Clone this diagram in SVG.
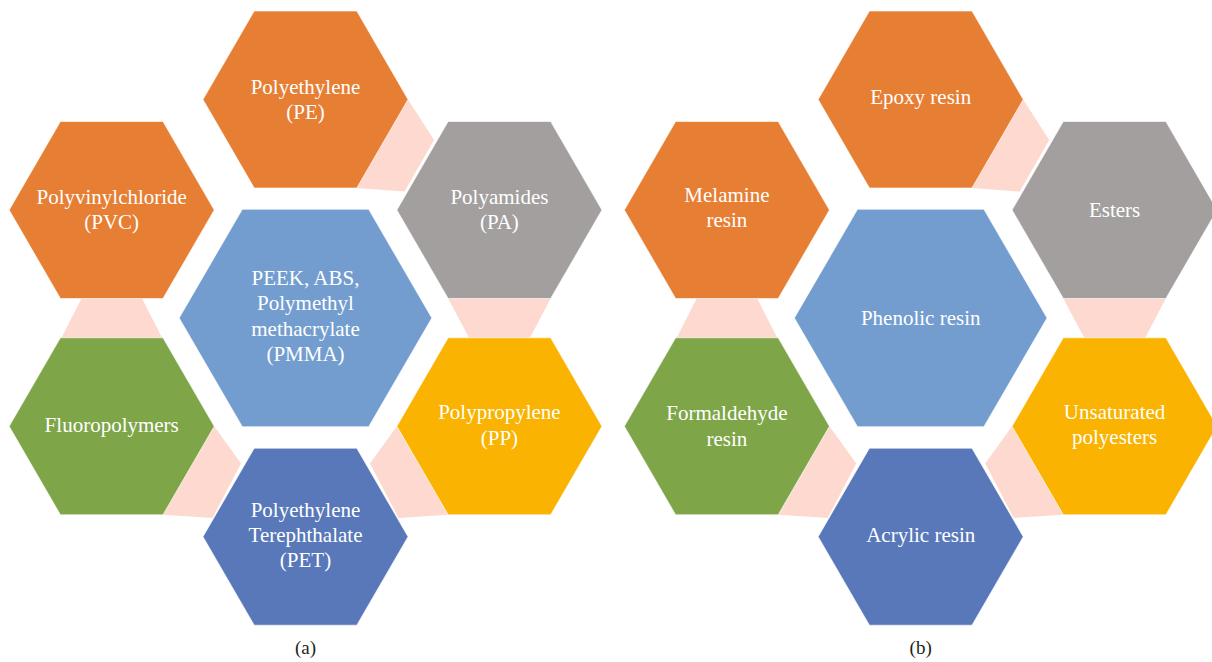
<svg xmlns="http://www.w3.org/2000/svg" xmlns:xlink="http://www.w3.org/1999/xlink" width="1212" height="662" viewBox="0 0 1212 662">
<style>
.t{font-family:"Liberation Serif","DejaVu Serif",serif;font-size:21px;fill:#ffffff;text-anchor:middle}
.cap{font-family:"Liberation Serif","DejaVu Serif",serif;font-size:19px;fill:#231f20;text-anchor:middle}
.con{fill:#fdd9cf}
.hx{stroke:#ffffff;stroke-width:1;stroke-opacity:0.6}
.orange{fill:#e67e34}.grey{fill:#a39f9e}.yellow{fill:#f9b300}.lblue{fill:#739dcf}.green{fill:#7ea548}.dblue{fill:#5878ba}
</style>
<defs>
<polygon id="hs" points="-102.5,0 -51.25,-88.5 51.25,-88.5 102.5,0 51.25,88.5 -51.25,88.5"/>
<polygon id="hl" points="-126.3,0 -63.15,-108.7 63.15,-108.7 126.3,0 63.15,108.7 -63.15,108.7"/>
</defs>
<rect width="1212" height="662" fill="#ffffff"/>

<g id="connectors">
  <g id="connectors-a">
    <polygon class="con" points="408,99.5 434,140 404.5,191.5 356.75,188"/>
    <polygon class="con" points="448.15,298.5 550.65,298.5 530,337.8 469,337.8"/>
    <polygon class="con" points="396.9,426.3 370,463.5 398.5,518 448.15,514.8"/>
    <polygon class="con" points="214.2,426.3 241,463.5 212.5,518 162.85,514.8"/>
    <polygon class="con" points="81.5,298.5 142,298.5 162,337.8 61.5,337.8"/>
  </g>
  <g id="connectors-b" transform="translate(615.2,0)">
    <polygon class="con" points="408,99.5 434,140 404.5,191.5 356.75,188"/>
    <polygon class="con" points="448.15,298.5 550.65,298.5 530,337.8 469,337.8"/>
    <polygon class="con" points="396.9,426.3 370,463.5 398.5,518 448.15,514.8"/>
    <polygon class="con" points="214.2,426.3 241,463.5 212.5,518 162.85,514.8"/>
    <polygon class="con" points="81.5,298.5 142,298.5 162,337.8 61.5,337.8"/>
  </g>
</g>

<g id="node-pe" transform="translate(305.5,99.5)">
  <use href="#hs" class="hx orange"/>
  <text class="t" y="-6">Polyethylene</text>
  <text class="t" y="19">(PE)</text>
</g>
<g id="node-pvc" transform="translate(111.7,210)">
  <use href="#hs" class="hx orange"/>
  <text class="t" y="-6.5">Polyvinylchloride</text>
  <text class="t" y="18.5">(PVC)</text>
</g>
<g id="node-pa" transform="translate(499.4,210)">
  <use href="#hs" class="hx grey"/>
  <text class="t" y="-6.5">Polyamides</text>
  <text class="t" y="18.5">(PA)</text>
</g>
<g id="node-center-a" transform="translate(305.5,318)">
  <use href="#hl" class="hx lblue"/>
  <text class="t" y="-33">PEEK, ABS,</text>
  <text class="t" y="-8">Polymethyl</text>
  <text class="t" y="17.5">methacrylate</text>
  <text class="t" y="43">(PMMA)</text>
</g>
<g id="node-fluoro" transform="translate(111.7,426.3)">
  <use href="#hs" class="hx green"/>
  <text class="t" y="5.5">Fluoropolymers</text>
</g>
<g id="node-pp" transform="translate(499.4,426.3)">
  <use href="#hs" class="hx yellow"/>
  <text class="t" y="-7">Polypropylene</text>
  <text class="t" y="18.5">(PP)</text>
</g>
<g id="node-pet" transform="translate(305.5,536.7)">
  <use href="#hs" class="hx dblue"/>
  <text class="t" y="-20">Polyethylene</text>
  <text class="t" y="5">Terephthalate</text>
  <text class="t" y="30">(PET)</text>
</g>
<text id="caption-a" class="cap" x="305.5" y="654">(a)</text>

<g id="node-epoxy" transform="translate(920.7,99.5)">
  <use href="#hs" class="hx orange"/>
  <text class="t" y="4">Epoxy resin</text>
</g>
<g id="node-melamine" transform="translate(726.9,210)">
  <use href="#hs" class="hx orange"/>
  <text class="t" y="-8">Melamine</text>
  <text class="t" y="17">resin</text>
</g>
<g id="node-esters" transform="translate(1114.6,210)">
  <use href="#hs" class="hx grey"/>
  <text class="t" y="6.5">Esters</text>
</g>
<g id="node-center-b" transform="translate(920.7,318)">
  <use href="#hl" class="hx lblue"/>
  <text class="t" y="7">Phenolic resin</text>
</g>
<g id="node-formaldehyde" transform="translate(726.9,426.3)">
  <use href="#hs" class="hx green"/>
  <text class="t" y="-6">Formaldehyde</text>
  <text class="t" y="19.5">resin</text>
</g>
<g id="node-unsat" transform="translate(1114.6,426.3)">
  <use href="#hs" class="hx yellow"/>
  <text class="t" y="-7">Unsaturated</text>
  <text class="t" y="18">polyesters</text>
</g>
<g id="node-acrylic" transform="translate(920.7,536.7)">
  <use href="#hs" class="hx dblue"/>
  <text class="t" y="5">Acrylic resin</text>
</g>
<text id="caption-b" class="cap" x="920.7" y="654">(b)</text>
</svg>
